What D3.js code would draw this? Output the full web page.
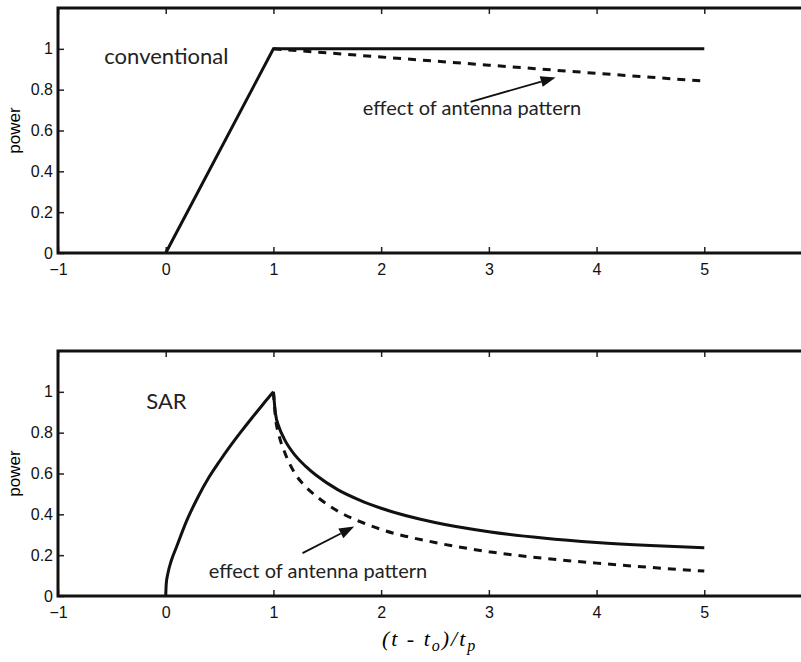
<!DOCTYPE html>
<head>
  <meta charset="utf-8">
  <script src="https://d3js.org/d3.v7.min.js"></script>
  <style>
    body { margin:0; padding:0; background:#fff; }
    svg { display:block; }
    .tick text { font-family: "Liberation Sans", Arial, sans-serif; font-size:16px; fill:#111; }
    .note { font-family: Lato, "Open Sans", sans-serif; font-size:20px; fill:#222; }
    .label { font-family: Lato, "Open Sans", sans-serif; font-size:22px; fill:#222; }
  </style>
</head>
<body>
  <svg id="chart" width="801" height="662"></svg>
  <script>
    // values
    var xTicks = [-1, 0, 1, 2, 3, 4, 5];
    var yTicks = [0, 0.2, 0.4, 0.6, 0.8, 1];

    var convT     = [0, 1, 5];
    var convPower = [0, 1, 1];
    var convAntT     = [1, 2, 3, 4, 5];
    var convAntPower = [1, 0.96, 0.92, 0.88, 0.842];

    // SAR: rise up to t = 1, then decay
    var sarRiseT     = [0, 0.005, 0.02, 0.05, 0.1, 0.2, 0.3, 0.4, 0.5, 0.6, 0.7, 0.8, 0.9, 1];
    var sarRisePower = [0, 0.06, 0.11, 0.17, 0.24, 0.375, 0.485, 0.58, 0.66, 0.735, 0.805, 0.872, 0.937, 1];
    var sarFallT     = [1, 1.02, 1.05, 1.1, 1.2, 1.3, 1.4, 1.6, 1.8, 2, 2.5, 3, 3.5, 4, 4.5, 5];
    var sarFallPower = [1, 0.89, 0.83, 0.77, 0.69, 0.635, 0.59, 0.52, 0.47, 0.43, 0.36, 0.315, 0.284, 0.262, 0.247, 0.236];
    var sarAntPower  = [1, 0.87, 0.79, 0.71, 0.60, 0.535, 0.488, 0.415, 0.365, 0.326, 0.262, 0.217, 0.185, 0.161, 0.14, 0.122];

    var svg = d3.select("#chart");
    var x = d3.scaleLinear().domain([-1, 6]).range([58, 812]);

    function zip(a, b) { return a.map(function(v, i) { return [v, b[i]]; }); }

    function panel(top, bottom, label, labelPos, lines, note, arrow) {
      var y = d3.scaleLinear().domain([0, 1.2]).range([bottom, top]);
      var g = svg.append("g");

      var xb = d3.axisBottom(x).tickValues(xTicks).tickSize(-6).tickPadding(11)
          .tickFormat(function(d) { return d < 0 ? "\u2212" + Math.abs(d) : d; });
      var gx = g.append("g").attr("transform", "translate(0," + bottom + ")").call(xb);
      var xt = d3.axisTop(x).tickValues(xTicks).tickSize(-6).tickFormat("");
      var gt = g.append("g").attr("transform", "translate(0," + top + ")").call(xt);
      var yl = d3.axisLeft(y).tickValues(yTicks).tickSize(-6).tickPadding(5)
          .tickFormat(function(d) { return d === 0 || d === 1 ? d : d3.format(".1f")(d); });
      var gy = g.append("g").attr("transform", "translate(58,0)").call(yl);
      [gx, gt, gy].forEach(function(a) {
        a.select(".domain").remove();
        a.selectAll(".tick line").attr("stroke", "#222").attr("stroke-width", 1.5);
      });
      gx.selectAll(".tick text").attr("dy", "0.71em");

      // box
      g.append("path")
        .attr("d", "M812," + top + "H" + x(-1) + "V" + bottom + "H812")
        .attr("fill", "none").attr("stroke", "#111").attr("stroke-width", 3);

      lines.forEach(function(l) {
        g.append("path")
          .datum(zip(l.t, l.p))
          .attr("d", d3.line().x(function(d) { return x(d[0]); })
                             .y(function(d) { return y(d[1]); })
                             .curve(l.curve || d3.curveLinear))
          .attr("fill", "none").attr("stroke", "#111")
          .attr("stroke-width", 3)
          .attr("stroke-dasharray", l.dash ? "8,7" : null);
      });

      g.append("text").attr("class", "label")
        .attr("x", x(labelPos[0])).attr("y", y(labelPos[1])).text(label);

      g.append("text").attr("class", "note")
        .attr("x", x(note[0])).attr("y", y(note[1])).text("effect of antenna pattern");

      // arrow
      var x0 = x(arrow[0]), y0 = y(arrow[1]), x1 = x(arrow[2]), y1 = y(arrow[3]);
      var ang = Math.atan2(y1 - y0, x1 - x0), L = 15, W = 5.5;
      var bx = x1 - L * Math.cos(ang), by = y1 - L * Math.sin(ang);
      g.append("line").attr("x1", x0).attr("y1", y0).attr("x2", bx).attr("y2", by)
        .attr("stroke", "#111").attr("stroke-width", 1.8);
      g.append("path")
        .attr("d", "M" + x1 + "," + y1 +
          "L" + (bx + W * Math.sin(ang)) + "," + (by - W * Math.cos(ang)) +
          "L" + (bx - W * Math.sin(ang)) + "," + (by + W * Math.cos(ang)) + "Z")
        .attr("fill", "#111");

      svg.append("text")
        .attr("transform", "translate(20," + y(0.6) + ") rotate(-90)")
        .attr("text-anchor", "middle")
        .style("font-family", "Liberation Sans, Arial, sans-serif").style("font-size", "17px")
        .text("power");
    }

    panel(8, 253, "conventional", [-0.57, 0.925], [
      { t: convT, p: convPower },
      { t: convAntT, p: convAntPower, dash: true }
    ], [1.83, 0.675], [2.83, 0.74, 3.62, 0.86]);

    panel(351, 596, "SAR", [-0.18, 0.915], [
      { t: sarRiseT, p: sarRisePower, curve: d3.curveMonotoneX },
      { t: sarFallT, p: sarFallPower, curve: d3.curveMonotoneX },
      { t: sarFallT, p: sarAntPower, dash: true, curve: d3.curveMonotoneX }
    ], [0.4, 0.09], [1.27, 0.21, 1.75, 0.34]);

    // x label
    var xl = svg.append("text").attr("x", x(2.45)).attr("y", 646)
      .attr("text-anchor", "middle")
      .attr("xml:space", "preserve")
      .style("letter-spacing", "2px")
      .style("font-family", "Liberation Serif, Times New Roman, serif")
      .style("font-style", "italic").style("font-size", "22px");
    xl.append("tspan").text("(t - t");
    xl.append("tspan").attr("dy", 5).style("font-size", "16px").text("o");
    xl.append("tspan").attr("dy", -5).text(")/t");
    xl.append("tspan").attr("dy", 5).style("font-size", "16px").text("p");
  </script>
</body>
